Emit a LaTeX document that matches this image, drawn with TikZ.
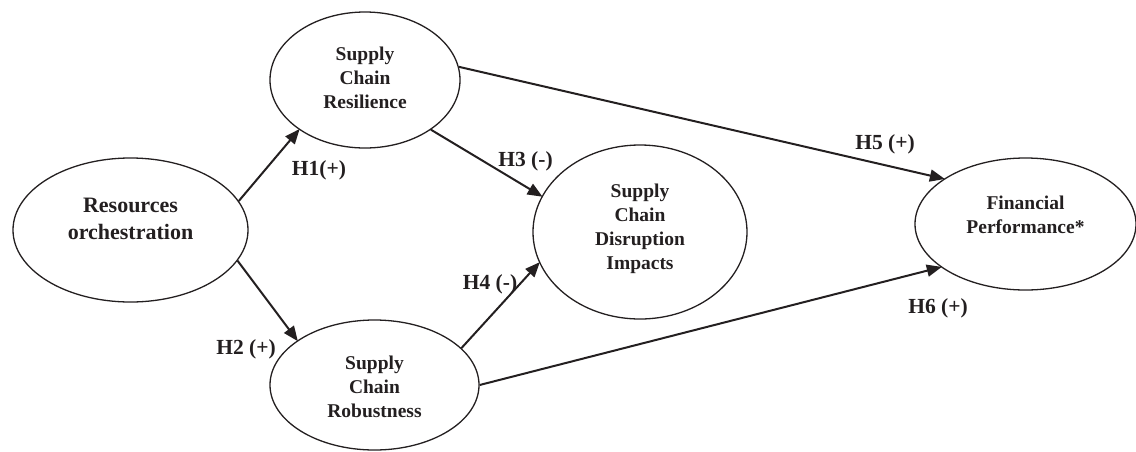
\documentclass[tikz,border=0pt]{standalone}
\usepackage{fontspec}
\setmainfont{Liberation Serif}
\usetikzlibrary{shapes.geometric,arrows.meta}
\definecolor{ink}{HTML}{231F20}
\tikzset{
  oval/.style={ellipse, draw=ink, line width=1.3pt, inner sep=0pt},
  ovaltext/.style={align=center, font=\fontsize{19.5}{24}\selectfont\bfseries, text=ink, inner sep=0pt},
  hyp/.style={font=\fontsize{21.5}{24}\selectfont\bfseries, text=ink, inner sep=0pt},
  link/.style={draw=ink, line width=2pt, -{Triangle[length=15pt,width=12pt]}, shorten >=-1pt}
}
\begin{document}
\begin{tikzpicture}[x=1pt,y=-1pt]
\useasboundingbox (0,0) rectangle (1136,451);
% ellipses
\node[oval, minimum width=235pt, minimum height=144pt] (ro) at (130.5,230) {};
\node[oval, minimum width=190pt, minimum height=136pt] (res) at (365,80) {};
\node[oval, minimum width=209pt, minimum height=130pt] (rob) at (374.5,385) {};
\node[oval, minimum width=214pt, minimum height=174pt] (scdi) at (640,232) {};
\node[oval, minimum width=221pt, minimum height=132pt] (fp) at (1025.5,224) {};
% texts
\node[ovaltext, font=\fontsize{22}{27}\selectfont\bfseries] (rot) at (130.5,219) {Resources\\orchestration};
\node[ovaltext] (rest) at (365,78) {Supply\\Chain\\Resilience};
\node[ovaltext] (robt) at (374.5,387) {Supply\\Chain\\Robustness};
\node[ovaltext] (scdit) at (640,229) {Supply\\Chain\\Disruption\\Impacts};
\node[ovaltext] (fpt) at (1025.5,215) {Financial\\Performance*};
% connectors
\draw[link] (ro.15) -- (res.217);
\draw[link] (ro.-16) -- (rob.150);
\draw[link] (res.-37) -- (scdi.160);
\draw[link] (rob.23) -- (scdi.197);
\draw[link] (res.8) -- (fp.151);
\draw[link] (rob.0) -- (fp.207);
% labels
\node[hyp] (h1) at (319,170) {H1(+)};
\node[hyp] (h2) at (246,349) {H2 (+)};
\node[hyp] (h3) at (525.5,161) {H3 (-)};
\node[hyp] (h4) at (490,284) {H4 (-)};
\node[hyp] (h5) at (885,144) {H5 (+)};
\node[hyp] (h6) at (938,308) {H6 (+)};
\end{tikzpicture}
\end{document}
